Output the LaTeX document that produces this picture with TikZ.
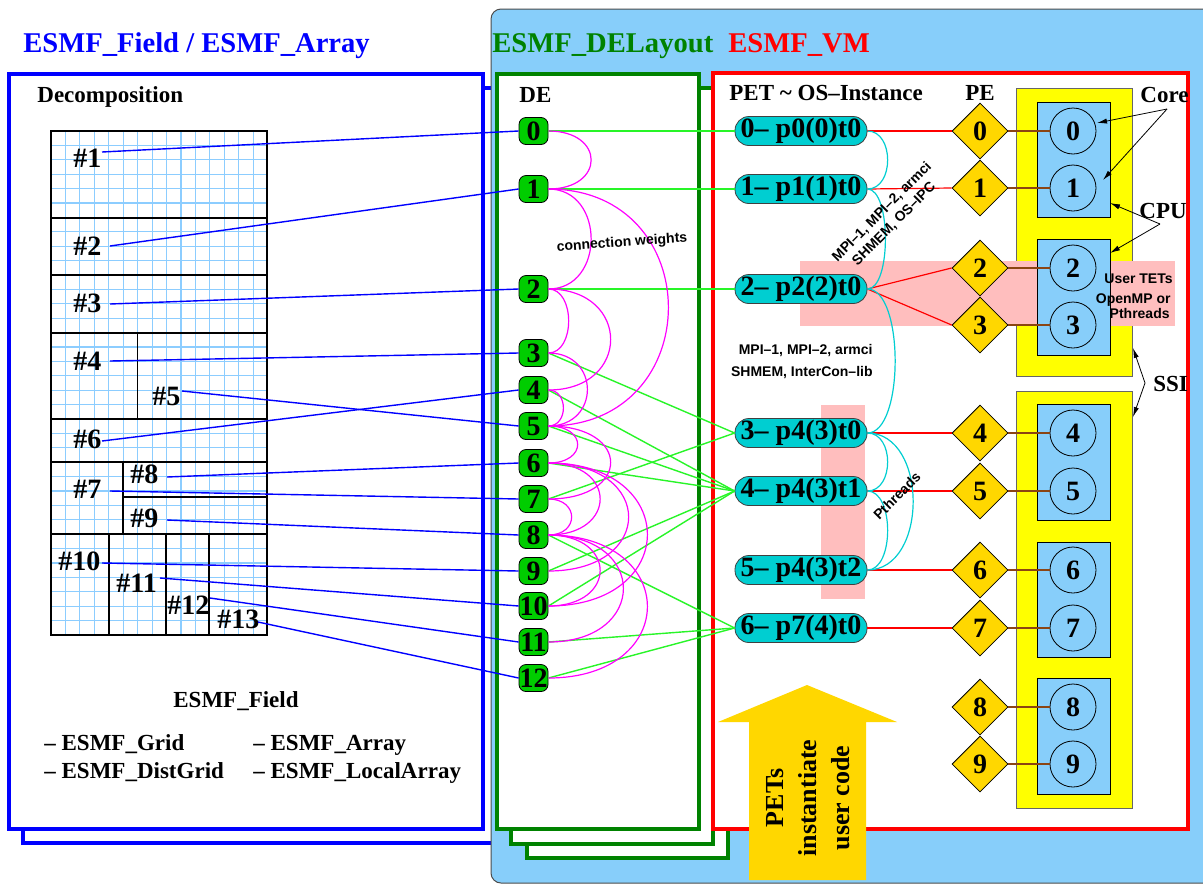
\documentclass[tikz,border=0pt]{standalone}
\usepackage{fontspec}
\setmainfont{Liberation Serif}
\setsansfont{Liberation Sans}
\usetikzlibrary{shapes.geometric,arrows.meta}
\definecolor{fblue}{RGB}{0,0,255}
\definecolor{fgreen}{RGB}{0,130,0}
\definecolor{fred}{RGB}{255,0,0}
\definecolor{panelc}{RGB}{135,206,250}
\definecolor{denodec}{RGB}{0,205,0}
\definecolor{petc}{RGB}{0,206,209}
\definecolor{goldc}{RGB}{255,215,0}
\definecolor{yelc}{RGB}{255,255,0}
\definecolor{pinkc}{RGB}{255,190,190}
\definecolor{limec}{RGB}{40,245,40}
\definecolor{magc}{RGB}{255,0,255}
\definecolor{brownc}{RGB}{139,69,19}
\definecolor{gridc}{RGB}{140,205,255}
\newcommand{\bigbf}{\fontsize{14}{16}\selectfont\bfseries}
\newcommand{\medbf}{\fontsize{11.5}{13}\selectfont\bfseries}
\newcommand{\smsans}{\fontsize{7}{8.5}\selectfont\sffamily\bfseries}
\begin{document}
\begin{tikzpicture}[x=0.5pt,y=-0.5pt,
  txt/.style={anchor=base west, inner sep=0pt},
  titletxt/.style={txt, font=\fontsize{14.3}{16}\selectfont\bfseries},
  medtxt/.style={txt, font=\medbf},
  hashtxt/.style={txt, font=\bigbf},
  smtxt/.style={inner sep=0pt, font=\smsans},
  denode/.style={rounded corners=3.5pt, draw=black, line width=0.4pt, fill=denodec, minimum width=14.5pt, minimum height=13.5pt, inner sep=0pt, font=\bigbf},
  petnode/.style={rounded corners=7pt, draw=black!75, line width=0.4pt, fill=petc, minimum width=66pt, minimum height=14.5pt, inner sep=0pt, font=\bigbf},
  pediamond/.style={diamond, draw=black, line width=0.4pt, fill=goldc, minimum width=28pt, minimum height=28pt, inner sep=0pt, font=\bigbf},
  corecirc/.style={circle, draw=black, line width=0.4pt, fill=panelc, minimum size=23pt, inner sep=0pt, font=\bigbf},
  frame/.style={line width=2pt, fill=white},
  gridl/.style={gridc, line width=0.55pt},
  part/.style={black, line width=0.7pt},
  bl/.style={fblue, line width=0.7pt},
  gl/.style={limec, line width=0.7pt},
  ml/.style={magc, line width=0.6pt},
  rl/.style={fred, line width=0.6pt},
  cl/.style={petc, line width=0.6pt},
  brl/.style={brownc, line width=0.7pt},
  annot/.style={black, line width=0.4pt, -{Latex[length=5pt,width=2.6pt]}}
]
\useasboundingbox (0,0) rectangle (1203,884);
\clip (0,0) rectangle (1203,884);
\fill[white] (0,0) rectangle (1203,884);
% frames
\draw[frame, draw=fblue] (22.5,88) rectangle (520,843);
\draw[black!70, line width=0.5pt, fill=panelc, rounded corners=5pt] (491,9) rectangle (1240,883);
\draw[frame, draw=fblue] (9,74) rectangle (483,829);
\draw[frame, draw=fgreen] (527,102) rectangle (728,858);
\draw[frame, draw=fgreen] (511,88) rectangle (713,844);
\draw[frame, draw=fgreen] (497,74) rectangle (699,829);
\draw[frame, draw=fred] (713,73) rectangle (1188,829);
% titles
\node[titletxt, text=fblue] (t1) at (23,52) {ESMF\_Field / ESMF\_Array};
\node[titletxt, text=fgreen] (t2) at (492,52) {ESMF\_DELayout};
\node[titletxt, text=fred] (t3) at (728,52) {ESMF\_VM};
\node[medtxt] (tdec) at (37,102) {Decomposition};
\node[medtxt] (tde) at (519,102) {DE};
\node[medtxt] (tpet) at (729,100) {PET \textasciitilde{} OS–Instance};
\node[medtxt] (tpe) at (965,100) {PE};
\node[medtxt] (tcore) at (1140,102) {Core};
\node[medtxt] (tcpu) at (1139,218) {CPU};
\node[medtxt] (tssi) at (1153,391) {SSI};
\node[medtxt] (tfield) at (173,707) {ESMF\_Field};
\node[medtxt] (tg1) at (44,750) {– ESMF\_Grid};
\node[medtxt] (tg2) at (44,778) {– ESMF\_DistGrid};
\node[medtxt] (tg3) at (253,750) {– ESMF\_Array};
\node[medtxt] (tg4) at (253,778) {– ESMF\_LocalArray};
% grid
\foreach \i in {1,...,14} \draw[gridl] ({51+\i*14.44},131) -- ({51+\i*14.44},635);
\foreach \j in {1,...,34} \draw[gridl] (51,{131+\j*14.4}) -- (267,{131+\j*14.4});
\draw[part] (51,218) -- (267,218);
\draw[part] (51,275) -- (267,275);
\draw[part] (51,333) -- (267,333);
\draw[part] (137.7,333) -- (137.7,419);
\draw[part] (51,419) -- (267,419);
\draw[part] (51,462) -- (267,462);
\draw[part] (123,462) -- (123,534);
\draw[part] (123,497) -- (267,497);
\draw[part] (51,534) -- (267,534);
\draw[part] (109,534) -- (109,635);
\draw[part] (166,534) -- (166,635);
\draw[part] (209,534) -- (209,635);
\draw[part] (51,131) rectangle (267,635);
% partition labels
\foreach \k/\x/\y in {1/73/167,2/73/255,3/73/312,4/73/370,5/152/405,6/73/448,7/73/498,8/130/483,9/130/527,10/58/570,11/116/592,12/167/614,13/217/628}
  \node[hashtxt] (h\k) at (\x,\y) {\#\k};
\foreach \k/\x/\y in {1/102/152,2/110/246,3/110/304,4/110/361,5/182/391,6/102/441,7/110/491,8/167/477,9/167/520,10/102/563,11/160/578,12/210/598,13/258/622}
  \coordinate (s\k) at (\x,\y);
% yellow SSI boxes
\draw[black!60, line width=0.5pt, fill=yelc] (1016,88) rectangle (1132,376);
\draw[black!60, line width=0.5pt, fill=yelc] (1016,391) rectangle (1132,808);
% pink highlight
\fill[pinkc] (800,261) rectangle (1175,326);
\fill[pinkc] (821,405) rectangle (865,599);
% CPU boxes
\foreach \ya/\yb in {102/217,239/355,404/520,542/657,678/794}
  \draw[black, line width=0.5pt, fill=panelc] (1037,\ya) rectangle (1110,\yb);
% DE nodes
\foreach \i/\y in {0/131,1/189,2/289,3/353,4/390,5/426,6/463,7/499,8/535,9/571,10/606,11/642,12/678}
  \node[denode] (d\i) at (533.5,\y) {\i};
% PET nodes
\node[petnode] (p0) at (801,131) {0– p0(0)t0};
\node[petnode] (p1) at (801,189) {1– p1(1)t0};
\node[petnode] (p2) at (801,289) {2– p2(2)t0};
\node[petnode] (p3) at (801,433) {3– p4(3)t0};
\node[petnode] (p4) at (801,491) {4– p4(3)t1};
\node[petnode] (p5) at (801,570) {5– p4(3)t2};
\node[petnode] (p6) at (801,628) {6– p7(4)t0};
% PE diamonds and cores
\foreach \i/\y in {0/131,1/188,2/268,3/325,4/433,5/491,6/570,7/628,8/707,9/764}{
  \node[pediamond] (e\i) at (980,\y) {\i};
  \node[corecirc] (c\i) at (1073,\y) {\i};
}
% connectors
\foreach \s/\b in {1/0,2/1,3/2,4/3,5/5,6/4,7/7,8/6,9/8,10/9,11/10,12/11,13/12}
  \draw[bl] (s\s) -- (d\b.west);
\foreach \a/\b in {0/0,1/1,2/2,3/3,4/4,5/4,6/4,7/3,8/6,9/4,10/4,11/6,12/6}
  \draw[gl] (d\a.east) -- (p\b.west);
\foreach \a/\b/\d in {0/1/57,1/2/57,1/5/160,2/3/27,2/4/83,3/5/52,4/5/20,5/6/39,5/7/83,6/8/69,6/9/107,6/10/132,7/8/31,8/10/69,8/11/100,8/12/132}
  \draw[ml] (d\a.east) .. controls +(\d,0) and +(\d,0) .. (d\b.east);
\foreach \a/\b in {0/0,1/1,2/2,2/3,3/4,4/5,5/6,6/7}
  \draw[rl] (p\a.east) -- (e\b.west);
\foreach \i in {0,...,9}
  \draw[brl] (e\i.east) -- (c\i.west);
\foreach \a/\b/\d in {0/1/27,1/2/24,2/3/37,3/4/27,3/5/61,4/5/27}
  \draw[cl] (p\a.east) .. controls +(\d,0) and +(\d,0) .. (p\b.east);
% small labels
\node[smtxt, rotate=4] (lcw) at (622,243) {connection weights};
\node[smtxt, rotate=45, align=center] (lmpi1) at (888,218) {MPI–1, MPI–2, armci\\SHMEM, OS–IPC};
\node[smtxt, anchor=base east] (lmpi2a) at (873,354) {MPI–1, MPI–2, armci};
\node[smtxt, anchor=base east] (lmpi2b) at (873,376) {SHMEM, InterCon–lib};
\node[smtxt, rotate=45] (lpth) at (897,496) {Pthreads};
\node[smtxt, anchor=base east] (lut) at (1173,283) {User TETs};
\node[smtxt, anchor=base east] (lomp) at (1171,303) {OpenMP or};
\node[smtxt, anchor=base east] (lpt) at (1170,318) {Pthreads};
% annotation arrows
\coordinate (acore) at (1167,109);
\coordinate (acore0) at (1097,123);
\coordinate (acore1) at (1103,180);
\coordinate (acpu) at (1160,224);
\coordinate (acpu0) at (1110,203);
\coordinate (acpu1) at (1110,253);
\coordinate (assi) at (1145,383);
\coordinate (assi0) at (1133,348);
\coordinate (assi1) at (1133,417);
\draw[annot] (acore) -- (acore0);
\draw[annot] (acore) -- (acore1);
\draw[annot] (acpu) -- (acpu0);
\draw[annot] (acpu) -- (acpu1);
\draw[annot] (assi) -- (assi0);
\draw[annot] (assi) -- (assi1);
% big arrow
\fill[goldc] (807,685) -- (897,722) -- (866,722) -- (866,880) -- (749,880) -- (749,722) -- (718,722) -- cycle;
\node[rotate=90, align=center, inner sep=0pt, font=\fontsize{13}{16.5}\selectfont\bfseries] (arrtxt) at (808,798) {PETs\\instantiate\\user code};
\end{tikzpicture}
\end{document}
